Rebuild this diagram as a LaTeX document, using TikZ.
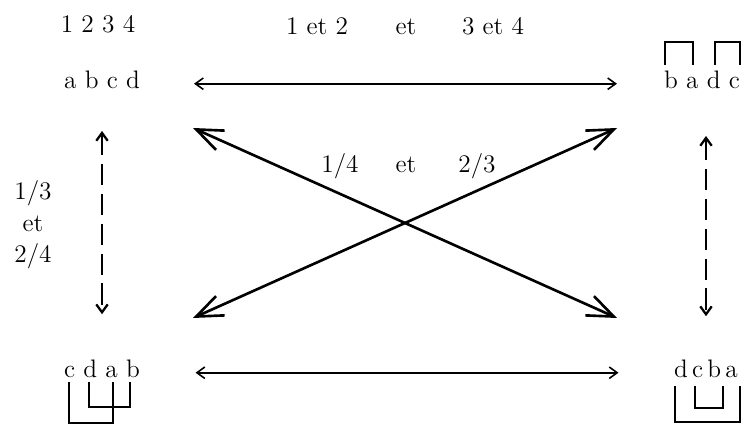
\documentclass[tikz,border=0pt]{standalone}
\usetikzlibrary{arrows.meta}
\begin{document}
\begin{tikzpicture}[thick,
		lbl/.style={font=\Large, inner sep=0pt},
		harrow/.style={line width=0.9pt, {Straight Barb[length=4.5pt,width=6.5pt]}-{Straight Barb[length=4.5pt,width=6.5pt]}},
		vdash/.style={harrow, line width=1.3pt, dash pattern=on 12pt off 5pt},
		xarrow/.style={line width=1.5pt, {Straight Barb[length=15pt,width=12pt]}-{Straight Barb[length=15pt,width=12pt]}},
		brk/.style={line width=1.1pt}]
		\useasboundingbox (0,0) rectangle (14.9,8.52);
		% Letter groups
		\node[lbl, anchor=base] (nums) at (1.96,7.86) {1 2 3 4};
		\node[lbl, anchor=base] (abcd) at (2.04,6.74) {a b c d};
		\node[lbl, anchor=base] (badc) at (14.04,6.74) {b a d c};
		\node[lbl, anchor=base] (cdab) at (2.04,0.96) {c d a b};
		\node[lbl, anchor=base] (dcba) at (14.12,0.96) {d\,c\,b\,a};
		% Labels
		\node[lbl, anchor=base] (top12) at (6.34,7.82) {1 et 2};
		\node[lbl, anchor=base] (topet) at (8.12,7.82) {et};
		\node[lbl, anchor=base] (top34) at (9.86,7.82) {3 et 4};
		\node[lbl, anchor=base] (mid14) at (6.80,5.06) {1/4};
		\node[lbl, anchor=base] (midet) at (8.12,5.06) {et};
		\node[lbl, anchor=base] (mid23) at (9.54,5.06) {2/3};
		\node[lbl, align=center] (side) at (0.66,4.02) {1/3\\et\\2/4};
		% Horizontal arrows
		\draw[harrow, shorten <=1.07cm, shorten >=0.93cm] ([yshift=3pt]abcd.base east) -- ([yshift=3pt]badc.base west);
		\draw[harrow, shorten <=1.1cm, shorten >=1.1cm] ([yshift=3pt]cdab.base east) -- ([yshift=3pt]dcba.base west);
		% Dashed vertical arrows
		\draw[vdash, shorten <=0.82cm, shorten >=0.91cm] (abcd.south) -- (cdab.north);
		\draw[vdash, shorten <=0.92cm, shorten >=0.87cm] (dcba.north |- badc.south) -- (dcba.north);
		% Crossing arrows
		\coordinate (ul) at (3.86,5.96);
		\coordinate (ur) at (12.34,5.96);
		\coordinate (ll) at (3.86,2.16);
		\coordinate (lr) at (12.34,2.16);
		\draw[xarrow] (ul) -- (lr);
		\draw[xarrow] (ll) -- (ur);
		% Brackets
		\draw[brk] (13.30,7.22) |- (13.86,7.68) -- (13.86,7.22);
		\draw[brk] (14.30,7.22) |- (14.80,7.68) -- (14.80,7.22);
		\draw[brk] (1.38,0.88) |- (2.26,0.06) -- (2.26,0.88);
		\draw[brk] (1.78,0.88) |- (2.60,0.38) -- (2.60,0.88);
		\draw[brk] (13.50,0.80) |- (14.80,0.08) -- (14.80,0.80);
		\draw[brk] (13.90,0.80) |- (14.46,0.36) -- (14.46,0.80);
	\end{tikzpicture}
\end{document}
